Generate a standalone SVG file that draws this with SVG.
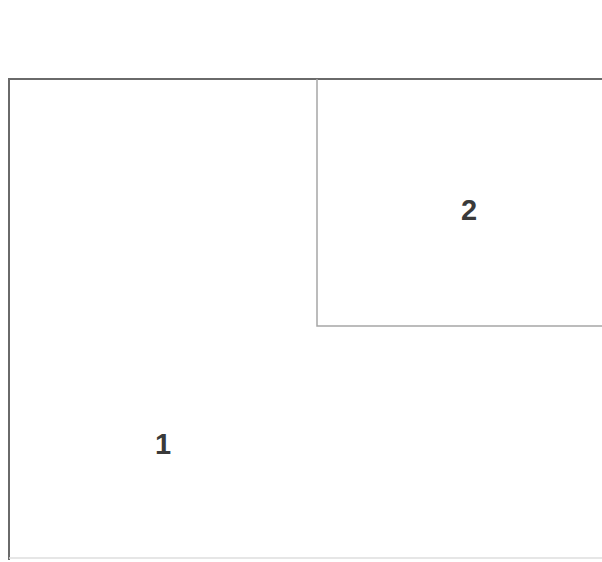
<svg xmlns="http://www.w3.org/2000/svg" width="602" height="562" viewBox="0 0 602 562">
<style>
.lbl{font-family:"Liberation Sans",Arial,sans-serif;font-size:29px;font-weight:bold;fill:#3a3a3a;text-anchor:middle}
</style>
<rect width="602" height="562" fill="#fff"/>
<g id="node1">
<path d="M9 560 V79 H602" fill="none" stroke="#6a6a6a" stroke-width="2"/>
<path d="M9 558 H602" fill="none" stroke="#dedede" stroke-width="1.5"/>
<text class="lbl" x="163" y="454">1</text>
</g>
<g id="node2">
<path d="M317 79 V326 H602" fill="none" stroke="#a6a6a6" stroke-width="1.5"/>
<text class="lbl" x="469" y="220">2</text>
</g>
<g id="connectors"></g>
</svg>
